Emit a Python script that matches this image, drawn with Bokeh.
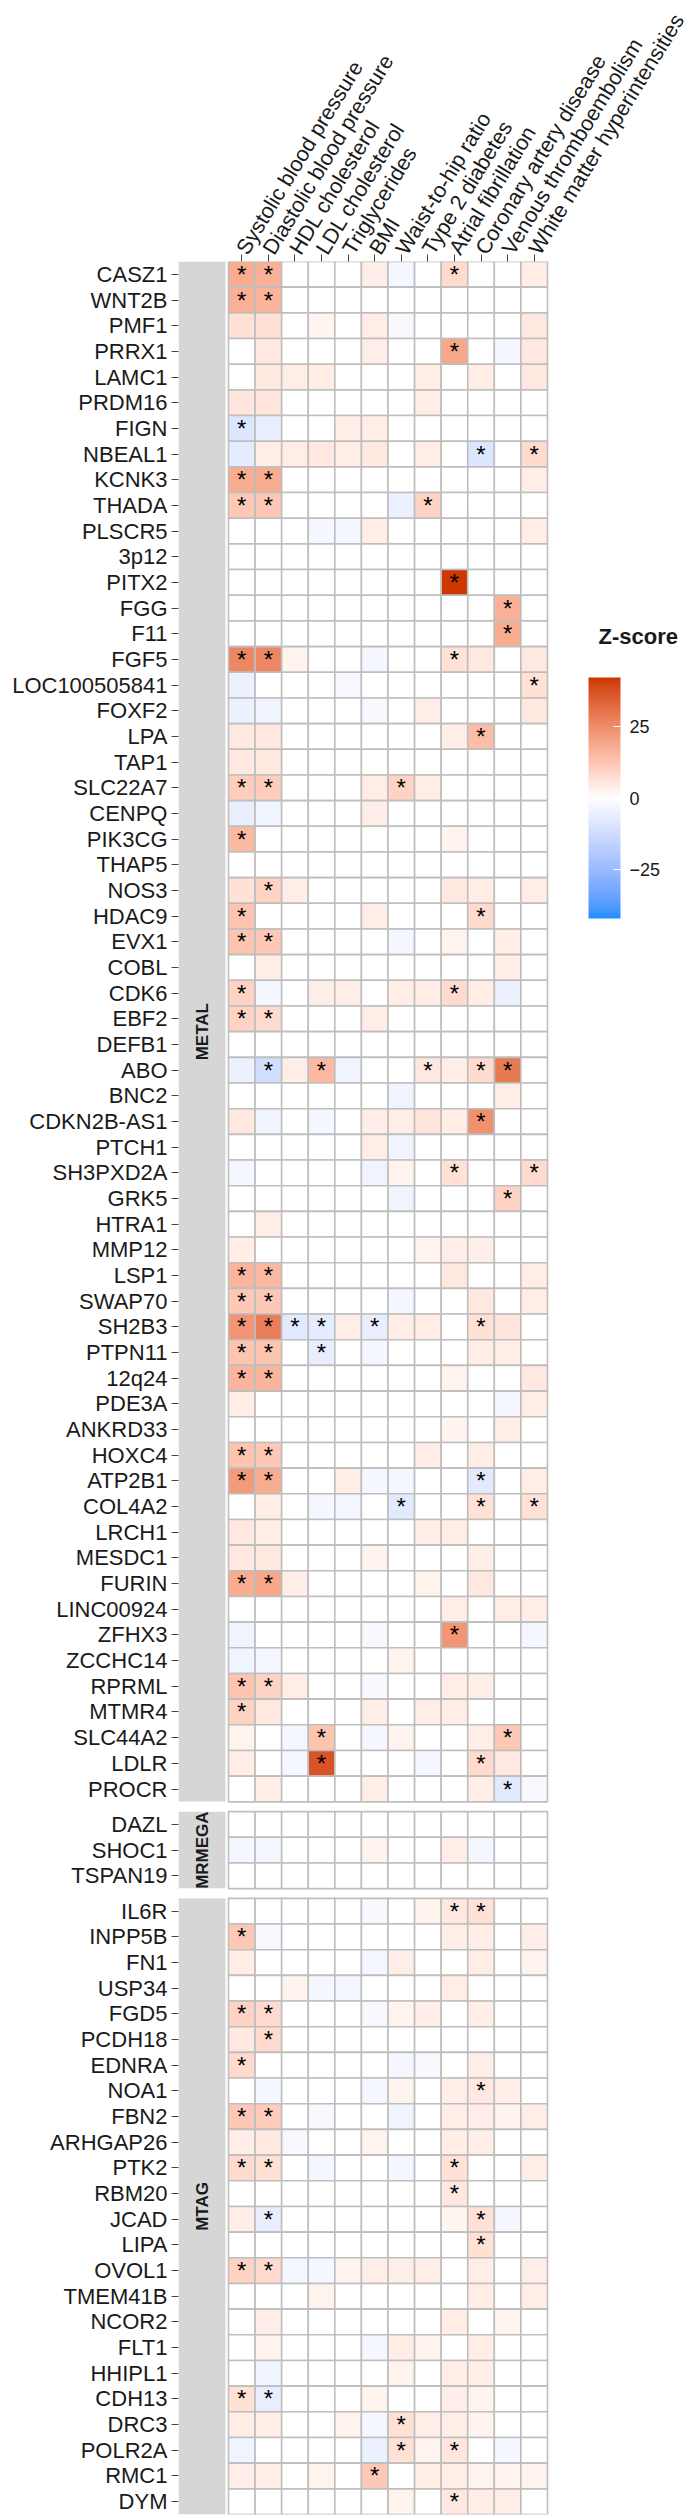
import math
from bokeh.plotting import figure
from bokeh.models import (Range1d, FixedTicker, LinearColorMapper, ColorBar,
                          ColumnDataSource)
from bokeh.transform import transform
from bokeh.core.properties import value
from bokeh.embed import file_html
from bokeh.resources import INLINE

# ---------------- data ----------------
traits = ["Systolic blood pressure", "Diastolic blood pressure", "HDL cholesterol",
          "LDL cholesterol", "Triglycerides", "BMI", "Waist-to-hip ratio",
          "Type 2 diabetes", "Atrial fibrillation", "Coronary artery disease",
          "Venous thromboembolism", "White matter hyperintensities"]

panels = ["METAL", "MRMEGA", "MTAG"]

genes_metal = ["CASZ1", "WNT2B", "PMF1", "PRRX1", "LAMC1", "PRDM16", "FIGN", "NBEAL1",
               "KCNK3", "THADA", "PLSCR5", "3p12", "PITX2", "FGG", "F11", "FGF5",
               "LOC100505841", "FOXF2", "LPA", "TAP1", "SLC22A7", "CENPQ", "PIK3CG",
               "THAP5", "NOS3", "HDAC9", "EVX1", "COBL", "CDK6", "EBF2", "DEFB1", "ABO",
               "BNC2", "CDKN2B-AS1", "PTCH1", "SH3PXD2A", "GRK5", "HTRA1", "MMP12",
               "LSP1", "SWAP70", "SH2B3", "PTPN11", "12q24", "PDE3A", "ANKRD33",
               "HOXC4", "ATP2B1", "COL4A2", "LRCH1", "MESDC1", "FURIN", "LINC00924",
               "ZFHX3", "ZCCHC14", "RPRML", "MTMR4", "SLC44A2", "LDLR", "PROCR"]

z_metal = [
    [18, 17, 0, 0, 0, 3.5, -3, 0, 8, 0, 0, 4],
    [17, 16, 0, 0, 0, 0, 0, 0, 0, 0, 0, 0],
    [6.5, 6.5, 0, 2, 0, 4, -2, 0, 0, 0, 0, 5],
    [0, 5, 0, 0, 0, 3.5, 0, 0, 19, 0, -3, 5],
    [0, 5, 4, 4, 0, 0, 0, 4, 0, 4, 0, 5],
    [5.5, 5.5, 0, 0, 0, 0, 0, 4, 0, 0, 0, 0],
    [-9, -6, 0, 0, 3.5, 4, 0, 0, 0, 0, 0, 0],
    [-6.5, 4, 4, 5, 4, 5, 0, 4, 0, -9, 0, 8],
    [18, 18, 0, 0, 0, 0, 0, 0, 0, 0, 0, 4],
    [12, 12, 0, 0, 0, 0, -5, 9.5, 0, 0, 0, 0],
    [0, 0, 0, -3, -3, 4, 0, 0, 0, 0, 0, 4],
    [0, 0, 0, 0, 0, 0, 0, 0, 0, 0, 0, 0],
    [0, 0, 0, 0, 0, 0, 0, 0, 42, 0, 0, 0],
    [0, 0, 0, 0, 0, 0, 0, 0, 0, 0, 17, 0],
    [0, 0, 0, 0, 0, 0, 0, 0, 0, 0, 18, 0],
    [26, 26, 2.5, 0, 0, -3, 0, 0, 6.5, 5, 0, 5],
    [-5, 0, 0, 0, -2, 0, 0, 0, 0, 0, 0, 6.5],
    [-5, -4, 0, 0, 0, -2, 0, 3.5, 0, 0, 0, 5],
    [5, 5, 0, 0, 0, 0, 0, 0, 3.5, 14, 0, 0],
    [5, 5, 0, 0, 0, 0, 0, 0, 0, 0, 0, 0],
    [11, 11, 0, 0, 0, 4, 9.5, 4, 0, 0, 0, 0],
    [-6, -4, 0, 0, 0, 3.5, 0, 0, 0, 0, 0, 0],
    [15, 0, 0, 0, 0, 0, 0, 0, 2.5, 0, 0, 0],
    [0, 0, 0, 0, 0, 0, 0, 0, 0, 0, 0, 0],
    [6.5, 9.5, 3.5, 0, 0, 0, 0, 0, 5, 4, 0, 4],
    [13, 0, 0, 0, 0, 3.5, 0, 0, 0, 8, 0, 0],
    [13, 12, 0, 0, 0, 0, -3, 0, 2.5, 0, 4, 0],
    [0, 3.5, 0, 0, 0, 0, 0, 0, 0, 0, 3.5, 0],
    [9.5, -3, 0, 3.5, 3.5, 0, 4, 4, 8, 4, -5, 0],
    [9.5, 8, 0, 0, 0, 3.5, 0, 0, 0, 0, 0, 0],
    [0, 0, 0, 0, 0, 0, 0, 0, 0, 0, 0, 0],
    [-5, -12, 3.5, 15, -4, 0, 0, 5, 3.5, 8, 29, 0],
    [0, 0, 0, 0, 0, 0, -4, 0, 0, 0, 4, 0],
    [5, -4, 0, -3, 0, 3.5, 4, 5.5, 4, 24, 0, 0],
    [0, 0, 0, 0, 0, 4, -4, 0, 0, 0, 0, 0],
    [-3, 0, 0, 0, 0, -4, 2.5, 0, 6.5, 0, 0, 8],
    [0, 0, 0, 0, 0, 0, -4, 0, 0, 0, 9.5, 0],
    [0, 3.5, 0, 0, 0, 0, 0, 0, 0, 0, 0, 0],
    [4, 0, 0, 0, 0, 0, 0, 2.5, 3.5, 3.5, 0, 0],
    [16, 15, 0, 0, 0, 0, 0, 0, 5, 0, 0, 4],
    [12, 12, 0, 0, 0, 0, -3, 0, 0, 5, 0, 4],
    [23, 28, -7.5, -6.5, 3.5, -6, 4, 4, 0, 6.5, 5.5, 0],
    [13, 13, 0, -6, 0, -3, 0, 0, 0, 4, 4, 0],
    [16, 16, 0, 0, 0, 0, 0, 0, 2.5, 0, 0, 5],
    [4, 0, 0, 0, 0, 0, 0, 0, 0, 0, -3, 4],
    [0, 0, 0, 0, 0, 0, 0, 0, 2.5, 0, 4, 0],
    [13, 12, 0, 0, 0, 0, 0, 4, 0, 3.5, 0, 0],
    [22, 18, 0, 0, 3.5, -3, -3, 0, 0, -7.5, 0, 4],
    [0, 4, 0, -3, -3, 0, -7.5, 0, 0, 6.5, 0, 6.5],
    [5, 4, 0, 0, 0, 0, 0, 3.5, 4, 0, 0, 0],
    [5, 5, 0, 0, 0, 2.5, 0, 0, 0, 3.5, 0, 0],
    [18, 19, 3.5, 0, 0, 0, 0, 2.5, 0, 5, 0, 0],
    [0, 0, 0, 0, 0, 0, 0, 0, 3.5, 0, 4, 3.5],
    [-4, 0, 0, 0, 0, -2, 0, 0, 23, 0, 0, -3],
    [-4, -3, 0, 0, 0, 0, 2.5, 0, 0, 0, 0, 0],
    [13, 9.5, 4, 0, 0, -2, 0, 0, 4, 3.5, 0, 0],
    [9.5, 5, 0, 0, 0, 3.5, 0, 3.5, 4, 0, 0, 0],
    [2.5, 0, -3, 13, 0, -3, 2.5, 0, 0, 3.5, 12, 0],
    [4, 0, -3, 37, 0, 0, 0, -3, 0, 8, 5, 0],
    [0, 3.5, 0, 0, 0, 3.5, 0, 0, 0, 4, -7.5, -2],
]

sig_metal = [
    "110000001000", "110000000000", "000000000000", "000000001000", "000000000000",
    "000000000000", "100000000000", "000000000101", "110000000000", "110000010000",
    "000000000000", "000000000000", "000000001000", "000000000010", "000000000010",
    "110000001000", "000000000001", "000000000000", "000000000100", "000000000000",
    "110000100000", "000000000000", "100000000000", "000000000000", "010000000000",
    "100000000100", "110000000000", "000000000000", "100000001000", "110000000000",
    "000000000000", "010100010110", "000000000000", "000000000100", "000000000000",
    "000000001001", "000000000010", "000000000000", "000000000000", "110000000000",
    "110000000000", "111101000100", "110100000000", "110000000000", "000000000000",
    "000000000000", "110000000000", "110000000100", "000000100101", "000000000000",
    "000000000000", "110000000000", "000000000000", "000000001000", "000000000000",
    "110000000000", "100000000000", "000100000010", "000100000100", "000000000010",
]

genes_mrmega = ["DAZL", "SHOC1", "TSPAN19"]
z_mrmega = [
    [0, 0, 0, 0, 0, 0, 0, 0, 0, 0, 0, 0],
    [-3, -3, 0, 0, 0, 2.5, 0, 0, 3.5, -3, 0, 0],
    [0, 0, 0, 0, 0, 0, 0, 0, 0, 0, 0, 0],
]
sig_mrmega = ["000000000000", "000000000000", "000000000000"]

genes_mtag = ["IL6R", "INPP5B", "FN1", "USP34", "FGD5", "PCDH18", "EDNRA", "NOA1",
              "FBN2", "ARHGAP26", "PTK2", "RBM20", "JCAD", "LIPA", "OVOL1", "TMEM41B",
              "NCOR2", "FLT1", "HHIPL1", "CDH13", "DRC3", "POLR2A", "RMC1", "DYM"]
z_mtag = [
    [0, 0, 0, 0, 0, -2, 0, 2.5, 5, 6.5, 0, 0],
    [12, -2, 0, 0, 0, 0, 0, 0, 3.5, 4, 0, 3.5],
    [4, 0, 0, 0, 0, -3, 3.5, 0, 0, 4, 0, 2.5],
    [0, 0, 2.5, -3, -3, 0, 0, 0, 4, 0, 0, 0],
    [9.5, 8, 0, 0, 0, -2, 2.5, 3.5, 0, 4, 0, 0],
    [5, 8, 0, 0, 0, 0, 0, 0, 0, 0, 0, 0],
    [8, 0, 0, 0, 0, 0, -3, -2, 0, 3.5, 0, 0],
    [0, -3, 0, 0, 0, -3, 2.5, 0, 3.5, 5, 3.5, 0],
    [12, 11, 0, -2, 0, 0, -4, 0, 3.5, 3.5, 2.5, 3.5],
    [4, 5, -2, 0, 0, 2.5, 0, 0, 4, 4, 0, 0],
    [8, 6.5, 0, -3, 0, 0, -3, 0, 6.5, 0, 0, 3.5],
    [0, 0, 0, 0, 0, 0, 0, 0, 5, 0, 0, 0],
    [3.5, -6, 0, 0, 0, 0, 0, 0, 2, 6.5, -3, 0],
    [0, 0, 0, 0, 0, 0, 0, 0, 0, 6.5, 0, 0],
    [9.5, 8, -3, -3, 2.5, 3.5, 3.5, 3.5, 0, 4, 0, 3.5],
    [0, 0, 0, 2.5, 0, 0, 0, 0, 0, 4, 0, 3.5],
    [0, 3.5, 0, 0, 0, 0, 0, 0, 4, 0, 2.5, 0],
    [0, 2.5, 0, 0, 0, -3, 4, 2.5, 0, 4, 0, 0],
    [0, -4, 0, 0, 0, 0, 2.5, 0, 4, 3.5, 0, 0],
    [6.5, -6, 0, 0, 0, 2.5, 0, 0, 3.5, 2.5, 0, 0],
    [4, 4, 0, 0, 2.5, -3, 6.5, 3.5, 3.5, 2.5, 0, 0],
    [-4, 0, 0, 0, 0, -5, 6.5, 2.5, 5.5, 0, -3, 0],
    [3.5, 3.5, 0, 2.5, 0, 12, 0, 4, 3.5, 2.5, 2.5, 2.5],
    [0, 0, 0, 0, 0, 0, 2.5, 0, 5, 4, 3.5, 0],
]
sig_mtag = [
    "000000001100", "100000000000", "000000000000", "000000000000", "110000000000",
    "010000000000", "100000000000", "000000000100", "110000000000", "000000000000",
    "110000001000", "000000001000", "010000000100", "000000000100", "110000000000",
    "000000000000", "000000000000", "000000000000", "000000000000", "110000000000",
    "000000100000", "000000101000", "000001000000", "000000001000",
]

z_limit = 42
legend_ticks = [-25, 0, 25]
legend_title = "Z-score"

# ---------------- colours (Lab interpolation, like gradient2) ----------------
LOW, MID, HIGH = "#1E90FF", "#FFFFFF", "#CD3700"


def _lin(c):
    return c / 12.92 if c <= 0.04045 else ((c + 0.055) / 1.055) ** 2.4


def _gam(c):
    c = max(0.0, min(1.0, c))
    return 12.92 * c if c <= 0.0031308 else 1.055 * c ** (1 / 2.4) - 0.055


def hex_to_lab(h):
    r, g, b = [_lin(int(h[i:i + 2], 16) / 255) for i in (1, 3, 5)]
    X = (0.4124 * r + 0.3576 * g + 0.1805 * b) / 0.95047
    Y = (0.2126 * r + 0.7152 * g + 0.0722 * b)
    Z = (0.0193 * r + 0.1192 * g + 0.9505 * b) / 1.08883
    f = lambda t: t ** (1 / 3) if t > 0.008856 else 7.787 * t + 16 / 116
    fx, fy, fz = f(X), f(Y), f(Z)
    return (116 * fy - 16, 500 * (fx - fy), 200 * (fy - fz))


def lab_to_hex(L, a, b):
    fy = (L + 16) / 116
    fx = fy + a / 500
    fz = fy - b / 200
    finv = lambda t: t ** 3 if t ** 3 > 0.008856 else (t - 16 / 116) / 7.787
    X, Y, Z = finv(fx) * 0.95047, finv(fy), finv(fz) * 1.08883
    r = 3.2406 * X - 1.5372 * Y - 0.4986 * Z
    g = -0.9689 * X + 1.8758 * Y + 0.0415 * Z
    bb = 0.0557 * X - 0.2040 * Y + 1.0570 * Z
    return "#%02x%02x%02x" % tuple(int(round(_gam(c) * 255)) for c in (r, g, bb))


lab_low, lab_mid, lab_high = hex_to_lab(LOW), hex_to_lab(MID), hex_to_lab(HIGH)
palette = []
N = 255
for i in range(N):
    t = i / (N - 1) * 2 - 1
    end = lab_low if t < 0 else lab_high
    u = abs(t)
    palette.append(lab_to_hex(*[m + (e - m) * u for m, e in zip(lab_mid, end)]))

mapper = LinearColorMapper(palette=palette, low=-z_limit, high=z_limit)

# ---------------- layout of rows ----------------
GAP = 0.38
groups = [(panels[0], genes_metal, z_metal, sig_metal),
          (panels[1], genes_mrmega, z_mrmega, sig_mrmega),
          (panels[2], genes_mtag, z_mtag, sig_mtag)]

cx, cy, cz = [], [], []
sx, sy, st = [], [], []
tick_pos, tick_lab = [], []
strip_y, strip_h, strip_txt = [], [], []
gap_y = []
count = 0
for gi, (pname, genes, zs, sigs) in enumerate(groups):
    ys = []
    for gene, row, srow in zip(genes, zs, sigs):
        y = round(count + gi * GAP, 3)
        ys.append(y)
        tick_pos.append(y)
        tick_lab.append(gene)
        for j, v in enumerate(row):
            cx.append(j)
            cy.append(y)
            cz.append(v)
            if srow[j] == "1":
                sx.append(j)
                sy.append(y)
                st.append("*")
        count += 1
    strip_y.append((ys[0] + ys[-1]) / 2)
    strip_h.append(len(ys))
    strip_txt.append(pname)
    if gi < len(groups) - 1:
        gap_y.append(ys[-1] + 0.5 + GAP / 2)

y_bottom = count - 0.5 + (len(groups) - 1) * GAP

FONT = "Liberation Sans"

# pixel geometry (figure px): frame from x=178 to 696, y=257 to 2514
FR_L, FR_T, FR_B = 178, 257, 4
COLW = 26.58
x_start = -0.5 - 50 / COLW
x_end = 11.5 + (696 - 547) / COLW

p = figure(width=696, height=2518,
           x_range=Range1d(x_start, x_end), y_range=Range1d(y_bottom, -0.5),
           x_axis_location="above", output_backend="svg", toolbar_location=None,
           min_border_left=FR_L, min_border_top=FR_T, min_border_right=0,
           min_border_bottom=FR_B)
p.xgrid.visible = False
p.ygrid.visible = False
p.outline_line_color = None
p.background_fill_color = "white"
p.border_fill_color = "white"

# strips
strip_w = 47 / COLW
strip_x = x_start + strip_w / 2
p.rect(x=[strip_x] * len(strip_y), y=strip_y, width=strip_w, height=strip_h,
       fill_color="#D6D6D6", line_color=None)
p.text(x=[strip_x] * len(strip_y), y=strip_y, text=strip_txt, angle=math.pi / 2,
       text_align="center", text_baseline="middle", text_font=value(FONT),
       text_font_size="17px", text_font_style="bold", text_color="#1A1A1A")
# clip strip texts at the strip edges
p.rect(x=[strip_x] * len(gap_y), y=gap_y, width=strip_w + 0.2, height=GAP,
       fill_color="white", line_color=None)

# tiles
src = ColumnDataSource(dict(x=cx, y=cy, z=cz))
p.rect(x="x", y="y", width=1, height=1, source=src,
       fill_color=transform("z", mapper), line_color="#BEBEBE", line_width=1.6)

# stars
ssrc = ColumnDataSource(dict(x=sx, y=sy, t=st))
p.text(x="x", y="y", text="t", source=ssrc, text_align="center",
       text_baseline="middle", text_font=value(FONT), text_font_size="24px",
       text_color="black")

# axes
xa = p.xaxis[0]
xa.ticker = FixedTicker(ticks=list(range(len(traits))))
xa.major_label_overrides = {i: t for i, t in enumerate(traits)}
xa.major_label_orientation = math.radians(58.5)
xa.major_label_text_font = FONT
xa.major_label_text_font_size = "21.5px"
xa.major_label_text_color = "#1A1A1A"
xa.axis_line_color = None
xa.major_tick_line_color = "#444444"
xa.major_tick_out = 7
xa.major_tick_in = 0
xa.minor_tick_line_color = None
xa.major_label_standoff = 2

ya = p.yaxis[0]
ya.ticker = FixedTicker(ticks=tick_pos)
ya.major_label_overrides = {y: g for y, g in zip(tick_pos, tick_lab)}
ya.major_label_text_font = FONT
ya.major_label_text_font_size = "22px"
ya.major_label_text_color = "#1A1A1A"
ya.axis_line_color = None
ya.major_tick_line_color = "#444444"
ya.major_tick_out = 7
ya.major_tick_in = 0
ya.minor_tick_line_color = None
ya.major_label_standoff = 4

# colour bar (bar at x 588-620, y 677-918 in figure px)
cb = ColorBar(color_mapper=mapper, ticker=FixedTicker(ticks=legend_ticks),
              orientation="vertical",
              major_label_text_font=FONT, major_label_text_font_size="18px",
              major_label_text_color="#1A1A1A", label_standoff=9,
              width=32, height=241, location=(588 - FR_L, 2514 - 918), padding=0,
              bar_line_color=None, major_tick_line_color="white",
              major_tick_in=7, major_tick_out=0, minor_tick_line_color=None,
              background_fill_alpha=0, border_line_color=None)
p.add_layout(cb)

# legend title, placed at figure px (598, 645)
tx = x_start + (598 - FR_L) / COLW
row_px = (2518 - FR_T - FR_B) / (y_bottom + 0.5)
ty = -0.5 + (645 - FR_T) / row_px
p.text(x=[tx], y=[ty], text=[legend_title], text_align="left",
       text_baseline="bottom", text_font=value(FONT), text_font_size="22px",
       text_font_style="bold", text_color="#1A1A1A")

open("out.html", "w").write(file_html(p, INLINE))
